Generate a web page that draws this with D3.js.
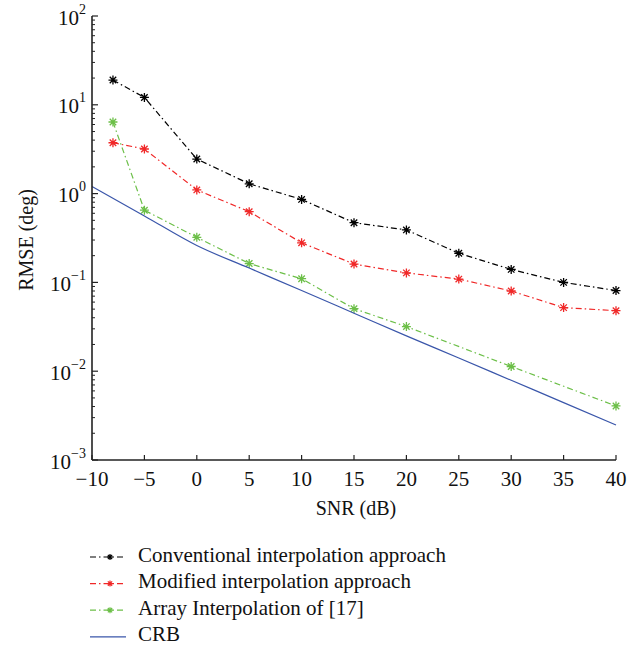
<!DOCTYPE html>
<html>
<head>
<meta charset="utf-8">
<script src="https://cdn.jsdelivr.net/npm/d3@7"></script>
<style>
  body { margin: 0; background: #fff; }
  text { font-family: "Liberation Serif", "DejaVu Serif", serif; fill: #111; }
</style>
</head>
<body>
<svg id="chart" width="637" height="648"></svg>
<script>
// data
var snr = [-8, -5, 0, 5, 10, 15, 20, 25, 30, 35, 40];
var conventional = [19, 12.1, 2.45, 1.29, 0.86, 0.47, 0.39, 0.213, 0.14, 0.10, 0.081];
var modified = [3.74, 3.18, 1.10, 0.626, 0.279, 0.161, 0.128, 0.109, 0.080, 0.052, 0.048];
var arraySnr = [-8, -5, 0, 5, 10, 15, 20, 30, 40];
var arrayInterp = [6.4, 0.65, 0.322, 0.163, 0.110, 0.0506, 0.0318, 0.0113, 0.00406];
var crbSnr = [-10, -5, 0, 5, 10, 15, 20, 25, 30, 35, 40];
var crb = [1.2, 0.56, 0.26, 0.145, 0.081, 0.045, 0.025, 0.0141, 0.0079, 0.00443, 0.00248];

var xTicks = [-10, -5, 0, 5, 10, 15, 20, 25, 30, 35, 40];
var yExponents = [-3, -2, -1, 0, 1, 2];
var legendLabels = ["Conventional interpolation approach", "Modified interpolation approach", "Array Interpolation of [17]", "CRB"];

var svg = d3.select("#chart");

var x = d3.scaleLinear().domain([-10, 40]).range([92, 616]);
var y = d3.scaleLog().domain([1e-3, 1e2]).range([460, 16]);

// dash-dot like matlab '-.'
var dashDot = "6,3,1.5,3";

var series = [
  {xs: snr, ys: conventional, color: "#000000", dash: dashDot, marker: true},
  {xs: snr, ys: modified, color: "#f02828", dash: dashDot, marker: true},
  {xs: arraySnr, ys: arrayInterp, color: "#6cbf48", dash: dashDot, marker: true},
  {xs: crbSnr, ys: crb, color: "#3a56aa", dash: null, marker: false}
];

function star(r) {
  var d = r * 0.72;
  return "M" + (-r) + ",0H" + r + "M0," + (-r) + "V" + r +
    "M" + (-d) + "," + (-d) + "L" + d + "," + d +
    "M" + (-d) + "," + d + "L" + d + "," + (-d);
}

var line = d3.line()
  .x(function(d){ return x(d[0]); })
  .y(function(d){ return y(d[1]); });

series.forEach(function(s){
  var pts = s.xs.map(function(v, i){ return [v, s.ys[i]]; });
  svg.append("path")
    .attr("d", s.marker ? line(pts) : line.curve(d3.curveMonotoneX)(pts))
    .attr("fill", "none")
    .attr("stroke", s.color)
    .attr("stroke-width", 1.2)
    .attr("stroke-dasharray", s.dash);
  line.curve(d3.curveLinear);
  if (s.marker) {
    svg.selectAll(null)
      .data(pts)
      .enter()
      .append("path")
      .attr("d", star(4.5))
      .attr("transform", function(d){ return "translate(" + x(d[0]) + "," + y(d[1]) + ")"; })
      .attr("stroke", s.color)
      .attr("stroke-width", 1.3)
      .attr("fill", "none");
  }
});

// axes (ticks inward, no box)
var axisColor = "#222";
svg.append("line")
  .attr("x1", x(-10)).attr("x2", x(-10))
  .attr("y1", y(100)).attr("y2", y(1e-3))
  .attr("stroke", axisColor).attr("stroke-width", 1.6);
svg.append("line")
  .attr("x1", x(-10)).attr("x2", x(40))
  .attr("y1", y(1e-3)).attr("y2", y(1e-3))
  .attr("stroke", axisColor).attr("stroke-width", 1.6);

xTicks.forEach(function(t){
  svg.append("line")
    .attr("x1", x(t)).attr("x2", x(t))
    .attr("y1", y(1e-3)).attr("y2", y(1e-3) - 5)
    .attr("stroke", axisColor).attr("stroke-width", 1.2);
  svg.append("text")
    .attr("x", x(t)).attr("y", 486)
    .attr("text-anchor", "middle")
    .attr("font-size", 21)
    .text(t < 0 ? "\u2212" + Math.abs(t) : t);
});

// log ticks on y
yExponents.forEach(function(e){
  var v = Math.pow(10, e);
  svg.append("line")
    .attr("x1", x(-10)).attr("x2", x(-10) + 6)
    .attr("y1", y(v)).attr("y2", y(v))
    .attr("stroke", axisColor).attr("stroke-width", 1.2);
  if (e < 2) {
    for (var k = 2; k <= 9; k++) {
      svg.append("line")
        .attr("x1", x(-10)).attr("x2", x(-10) + 3)
        .attr("y1", y(k * v)).attr("y2", y(k * v))
        .attr("stroke", axisColor).attr("stroke-width", 1);
    }
  }
  var lab = svg.append("text")
    .attr("x", 86).attr("y", y(v) + 8.5)
    .attr("text-anchor", "end")
    .attr("font-size", 21);
  lab.append("tspan").text("10");
  lab.append("tspan")
    .attr("dy", -11)
    .attr("font-size", 14)
    .text(e < 0 ? "\u2212" + Math.abs(e) : e);
});

svg.append("text")
  .attr("x", 356).attr("y", 515)
  .attr("text-anchor", "middle")
  .attr("font-size", 20)
  .text("SNR (dB)");

svg.append("text")
  .attr("transform", "translate(33,240) rotate(-90)")
  .attr("text-anchor", "middle")
  .attr("font-size", 20)
  .text("RMSE (deg)");

// legend
var legend = svg.append("g");
series.forEach(function(s, i){
  var ly = 557 + i * 26.6;
  legend.append("line")
    .attr("x1", 90).attr("x2", 126)
    .attr("y1", ly).attr("y2", ly)
    .attr("stroke", s.color)
    .attr("stroke-width", 1.2)
    .attr("stroke-dasharray", s.dash);
  if (s.marker) {
    legend.append("path")
      .attr("d", star(3))
      .attr("transform", "translate(110," + ly + ")")
      .attr("stroke", s.color)
      .attr("stroke-width", 1.2);
  }
  legend.append("text")
    .attr("x", 138).attr("y", ly + 4.5)
    .attr("font-size", 21)
    .text(legendLabels[i]);
});
</script>
</body>
</html>
